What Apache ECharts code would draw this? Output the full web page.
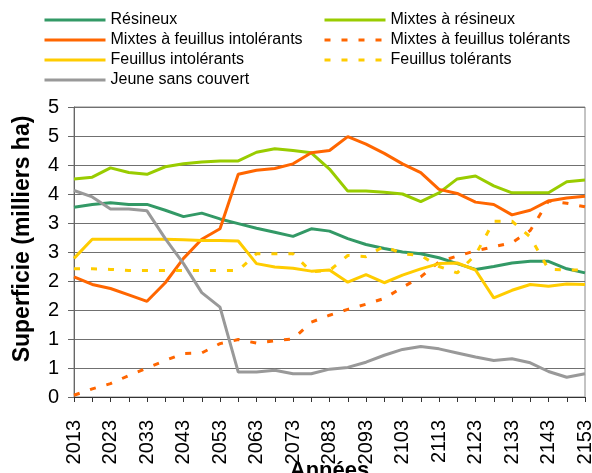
<!DOCTYPE html>
<html>
<head>
<meta charset="utf-8">
<script src="https://cdn.jsdelivr.net/npm/echarts@6/dist/echarts.min.js"></script>
<style>
html,body{margin:0;padding:0;background:#fff;}
#main{width:592px;height:473px;}
</style>
</head>
<body>
<div id="main"></div>
<script>
// superficie par type de peuplement, milliers ha
var annees = [2013,2018,2023,2028,2033,2038,2043,2048,2053,2058,2063,2068,2073,2078,2083,2088,2093,2098,2103,2108,2113,2118,2123,2128,2133,2138,2143,2148,2153];

var resineux   = [3.27,3.32,3.35,3.32,3.32,3.22,3.11,3.17,3.07,2.99,2.91,2.84,2.77,2.90,2.86,2.73,2.63,2.56,2.50,2.47,2.40,2.30,2.20,2.25,2.31,2.34,2.34,2.21,2.14];
var mixtesRes  = [3.76,3.79,3.95,3.87,3.84,3.97,4.02,4.05,4.07,4.07,4.22,4.28,4.25,4.21,3.93,3.55,3.55,3.53,3.50,3.37,3.52,3.76,3.81,3.64,3.52,3.52,3.52,3.71,3.74];
var mixtesInt  = [2.07,1.94,1.87,1.76,1.65,1.97,2.39,2.72,2.90,3.84,3.91,3.94,4.02,4.21,4.25,4.49,4.36,4.20,4.02,3.87,3.58,3.51,3.36,3.32,3.14,3.22,3.38,3.43,3.46];
var mixtesTol  = [0.03,0.14,0.23,0.37,0.50,0.63,0.75,0.76,0.92,0.99,0.93,0.97,1.00,1.29,1.41,1.51,1.60,1.70,1.89,2.07,2.33,2.43,2.52,2.59,2.66,2.87,3.38,3.34,3.28];
var feuillusInt= [2.39,2.72,2.72,2.72,2.72,2.72,2.71,2.70,2.70,2.69,2.30,2.24,2.22,2.17,2.19,1.98,2.11,1.97,2.10,2.21,2.30,2.31,2.19,1.71,1.84,1.94,1.91,1.95,1.94];
var feuillusTol= [2.21,2.21,2.20,2.18,2.18,2.18,2.18,2.18,2.18,2.18,2.47,2.47,2.47,2.16,2.18,2.44,2.42,2.60,2.47,2.44,2.25,2.14,2.45,3.03,3.03,2.76,2.20,2.19,2.19];
var jeune      = [3.56,3.45,3.24,3.24,3.21,2.73,2.30,1.80,1.55,0.43,0.43,0.46,0.40,0.40,0.48,0.51,0.60,0.72,0.82,0.87,0.83,0.76,0.69,0.63,0.66,0.59,0.44,0.34,0.40];

var police = "'Liberation Sans', Arial, sans-serif";

function serie(nom, data, couleur, pointille){
	return {
		name: nom,
		type: 'line',
		data: data,
		symbol: 'none',
		showSymbol: false,
		silent: true,
		lineStyle: {
			color: couleur,
			width: 3,
			type: pointille ? [6, 11] : 'solid'
		},
		itemStyle: { color: couleur }
	};
}

function legende(gauche, noms){
	return {
		left: gauche, top: 12, orient: 'vertical', padding: 0,
		itemWidth: 61, itemHeight: 14, itemGap: 4,
		itemStyle: { opacity: 0 },   // pas de rond au milieu du trait
		lineStyle: { width: 3 },
		textStyle: { fontSize: 16, color: '#000', fontFamily: police },
		data: noms
	};
}

function initChart(){
	var myChart = echarts.init(document.getElementById('main'));
	var option = {
		animation: false,
		textStyle: { fontFamily: police },
		legend: [
			legende(43, ['Résineux', 'Mixtes à feuillus intolérants', 'Feuillus intolérants', 'Jeune sans couvert']),
			legende(323, ['Mixtes à résineux', 'Mixtes à feuillus tolérants', 'Feuillus tolérants'])
		],
		grid: {
			left: 74, right: 7, top: 107, bottom: 76,
			show: true, borderColor: '#888', borderWidth: 1,
			containLabel: false,
			outerBoundsMode: 'none'   // sinon la zone se rétrécit
		},
		xAxis: {
			type: 'category',
			data: annees,
			boundaryGap: false,
			name: 'Années',
			nameLocation: 'middle',
			nameGap: 63,
			nameMoveOverlap: false,
			nameTextStyle: { fontSize: 22, fontWeight: 'bold', color: '#000', fontFamily: police },
			axisLine: { lineStyle: { color: '#333', width: 1 } },
			axisTick: { interval: 0, length: 5, lineStyle: { color: '#333' } },
			axisLabel: {
				interval: 1, rotate: 90, margin: 23,
				fontSize: 20, color: '#000', fontFamily: police
			},
			splitLine: { show: false }
		},
		yAxis: {
			type: 'value',
			min: 0, max: 5, interval: 0.5,
			name: 'Superficie (milliers ha)',
			nameLocation: 'middle',
			nameRotate: 90,
			nameGap: 40,
			nameMoveOverlap: false,
			nameTextStyle: { fontSize: 23, fontWeight: 'bold', color: '#000', fontFamily: police, padding: [0, 0, 0, 26] },
			axisLine: { show: true, lineStyle: { color: '#666', width: 1 } },
			axisTick: { show: true, length: 6, lineStyle: { color: '#666' } },
			axisLabel: {
				margin: 15, fontSize: 20, color: '#000', fontFamily: police,
				formatter: function(v){ return Math.round(v); }
			},
			splitLine: { lineStyle: { color: '#707070', width: 1 } }
		},
		series: [
			serie('Résineux', resineux, '#339966', false),
			serie('Mixtes à résineux', mixtesRes, '#99CC00', false),
			serie('Mixtes à feuillus intolérants', mixtesInt, '#FF6600', false),
			serie('Mixtes à feuillus tolérants', mixtesTol, '#FF6600', true),
			serie('Feuillus intolérants', feuillusInt, '#FFCC00', false),
			serie('Feuillus tolérants', feuillusTol, '#FFCC00', true),
			serie('Jeune sans couvert', jeune, '#999999', false)
		]
	};
	myChart.setOption(option);
}

initChart();
</script>
</body>
</html>
